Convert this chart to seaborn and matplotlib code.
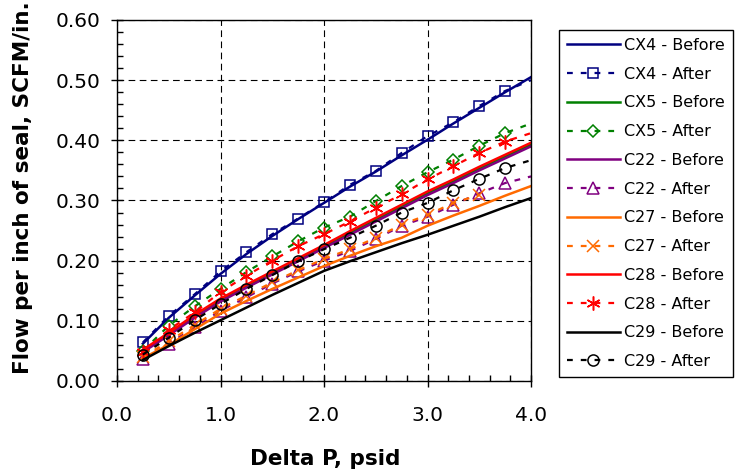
import numpy as np
import pandas as pd
import matplotlib
matplotlib.use("Agg")
import matplotlib.pyplot as plt
import seaborn as sns
from matplotlib.ticker import MultipleLocator, FormatStrFormatter

# ---------------- data ----------------
x_full = [0.25, 0.5, 0.75, 1.0, 1.25, 1.5, 1.75, 2.0, 2.25, 2.5, 2.75, 3.0, 3.25, 3.5, 3.75, 4.0]

cx4_before = [0.062, 0.105, 0.142, 0.178, 0.211, 0.241, 0.269, 0.296, 0.323, 0.348, 0.375, 0.401, 0.428, 0.454, 0.480, 0.505]
cx4_after  = [0.064, 0.108, 0.144, 0.182, 0.214, 0.244, 0.270, 0.297, 0.326, 0.349, 0.379, 0.407, 0.430, 0.457, 0.482, 0.500]

cx5_before = [0.050, 0.078, 0.108, 0.135, 0.158, 0.180, 0.202, 0.224, 0.246, 0.268, 0.290, 0.312, 0.332, 0.353, 0.373, 0.393]
cx5_after  = [0.050, 0.092, 0.124, 0.153, 0.181, 0.207, 0.232, 0.255, 0.273, 0.299, 0.324, 0.347, 0.368, 0.391, 0.412, 0.428]

c22_before = [0.048, 0.076, 0.105, 0.132, 0.155, 0.177, 0.199, 0.221, 0.243, 0.265, 0.287, 0.309, 0.329, 0.350, 0.370, 0.390]
c22_after  = [0.037, 0.062, 0.089, 0.117, 0.139, 0.162, 0.182, 0.200, 0.216, 0.236, 0.258, 0.273, 0.293, 0.312, 0.329, 0.340]

c27_before = [0.038, 0.060, 0.086, 0.112, 0.133, 0.153, 0.172, 0.191, 0.208, 0.224, 0.238, 0.258, 0.275, 0.291, 0.308, 0.324]
c27_after  = [0.040, 0.066, 0.093, 0.120, 0.142, 0.164, 0.184, 0.203, 0.219, 0.238, 0.260, 0.276, 0.296, 0.309]

c28_before = [0.052, 0.080, 0.110, 0.137, 0.160, 0.182, 0.204, 0.226, 0.249, 0.271, 0.293, 0.315, 0.335, 0.356, 0.376, 0.396]
c28_after  = [0.048, 0.085, 0.114, 0.148, 0.175, 0.200, 0.224, 0.244, 0.265, 0.288, 0.310, 0.335, 0.357, 0.379, 0.398, 0.412]

c29_before = [0.035, 0.058, 0.080, 0.101, 0.122, 0.143, 0.163, 0.183, 0.199, 0.214, 0.229, 0.243, 0.258, 0.273, 0.289, 0.304]
c29_after  = [0.044, 0.072, 0.101, 0.128, 0.153, 0.176, 0.199, 0.219, 0.238, 0.258, 0.280, 0.296, 0.317, 0.336, 0.354, 0.367]

x_ticks = [0.0, 1.0, 2.0, 3.0, 4.0]
y_ticks = [0.0, 0.1, 0.2, 0.3, 0.4, 0.5, 0.6]

# ---------------- figure ----------------
plt.rcParams['font.family'] = ['DejaVu Sans']
fig = plt.figure(figsize=(7.37, 4.75), dpi=100)
ax = fig.add_axes([117/737, 1 - 381/475, 414/737, 361/475])
ax.set_axisbelow(True)

navy, green, purple, orange, red, black = '#000080', '#008000', '#800080', '#FF6A00', '#FF0000', '#000000'
dash = (0, (2.6, 3.6))

series = [
    ("CX4 - Before", cx4_before, navy, None, None),
    ("CX4 - After", cx4_after, navy, 's', 7.5),
    ("CX5 - Before", cx5_before, green, None, None),
    ("CX5 - After", cx5_after, green, 'D', 6.5),
    ("C22 - Before", c22_before, purple, None, None),
    ("C22 - After", c22_after, purple, '^', 8.5),
    ("C27 - Before", c27_before, orange, None, None),
    ("C27 - After", c27_after, orange, 'x', 8),
    ("C28 - Before", c28_before, red, None, None),
    ("C28 - After", c28_after, red, (6, 2, 0), 10),
    ("C29 - Before", c29_before, black, None, None),
    ("C29 - After", c29_after, black, 'o', 8),
]

for label, vals, col, mk, ms in series:
    xs = x_full[:len(vals)]
    df = pd.DataFrame({"x": xs, "y": vals})
    if mk is None:
        sns.lineplot(data=df, x="x", y="y", ax=ax, color=col, lw=1.8,
                     label=label, estimator=None, sort=False)
    else:
        nmk = min(len(vals), 15)
        sns.lineplot(data=df, x="x", y="y", ax=ax, color=col, lw=1.6,
                     linestyle=dash, marker=mk, markersize=ms,
                     markerfacecolor='none', markeredgecolor=col,
                     markeredgewidth=1.1, markevery=list(range(nmk)),
                     label=label, estimator=None, sort=False)

ax.set_xlim(0, 4.0)
ax.set_ylim(0, 0.6)
ax.set_xticks(x_ticks)
ax.set_yticks(y_ticks)
ax.xaxis.set_major_formatter(FormatStrFormatter('%.1f'))
ax.yaxis.set_major_formatter(FormatStrFormatter('%.2f'))
ax.xaxis.set_minor_locator(MultipleLocator(0.2))
ax.yaxis.set_minor_locator(MultipleLocator(0.02))

ax.grid(True, which='major', color='black', linestyle=(0, (6, 4)), lw=0.8)
for s in ax.spines.values():
    s.set_color('black')
    s.set_linewidth(1.0)

ax.tick_params(which='major', direction='inout', length=8, width=1, labelsize=14.5,
               colors='black')
ax.tick_params(axis='x', which='major', pad=14)
ax.tick_params(axis='y', which='major', pad=8)
ax.tick_params(which='minor', direction='in', length=4, width=1)

ax.set_xlabel("Delta P, psid", fontsize=15.5, fontweight='bold')
ax.set_ylabel("Flow per inch of seal, SCFM/in.", fontsize=15.5, fontweight='bold')
ax.xaxis.set_label_coords(0.502, -0.188)
ax.yaxis.set_label_coords(-0.202, 0.535)

leg = ax.legend(loc='upper left', bbox_to_anchor=(559/737, 1 - 30/475),
                bbox_transform=fig.transFigure, fontsize=11.5, frameon=True,
                fancybox=False, shadow=False, borderaxespad=0, borderpad=0.5,
                handlelength=3.3, handletextpad=0.3, labelspacing=0.86,
                edgecolor='black', framealpha=1)
leg.get_frame().set_linewidth(1.0)

fig.savefig("out.png", dpi=100)
